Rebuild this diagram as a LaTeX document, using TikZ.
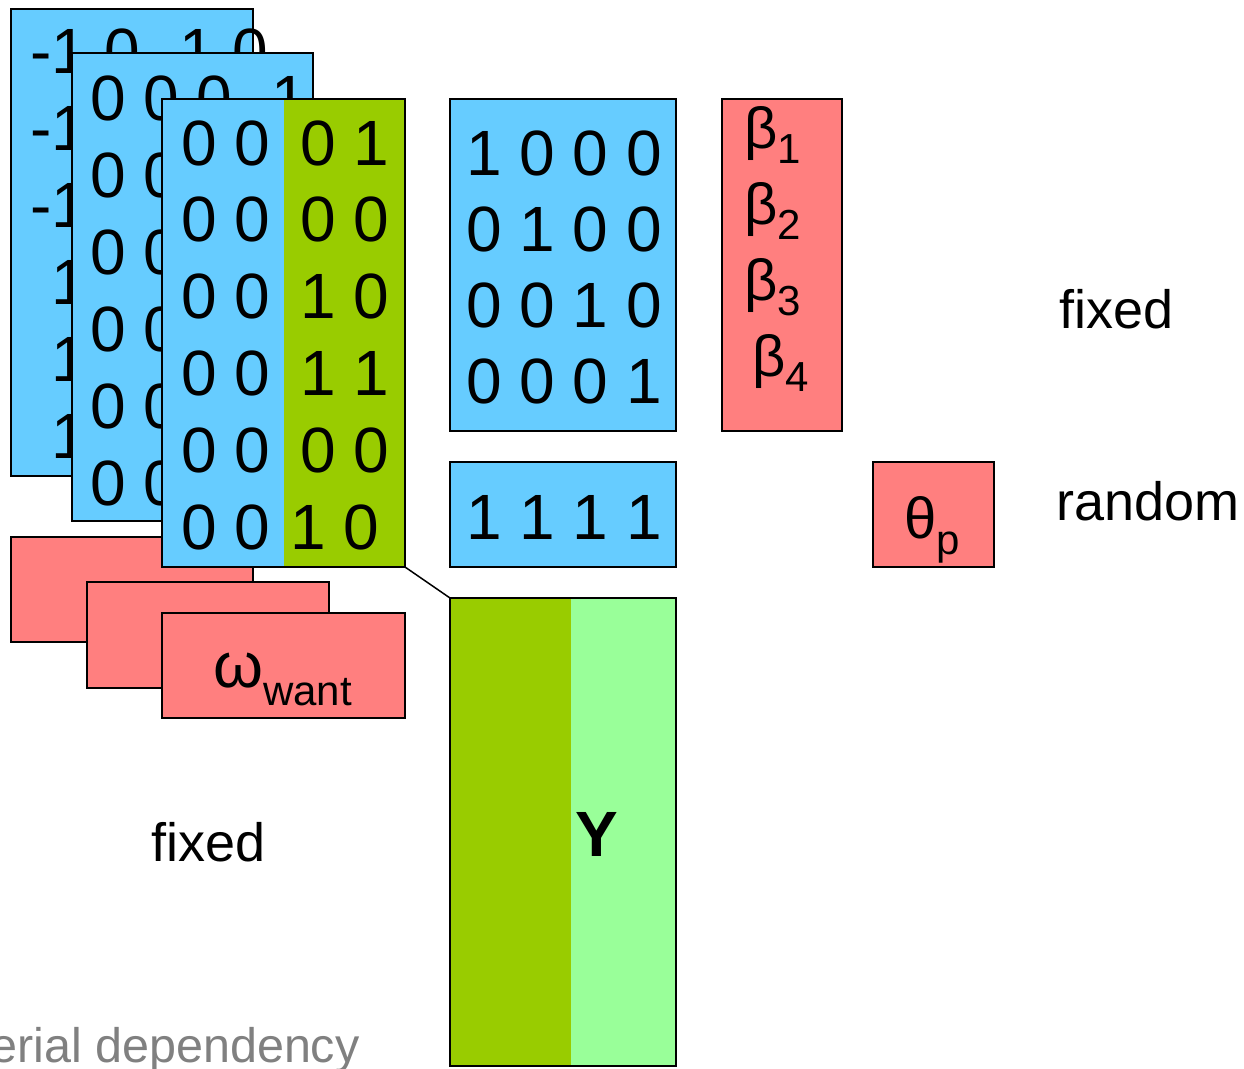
\documentclass[tikz,border=0pt]{standalone}
\usepackage{fontspec}
\setmainfont{Liberation Sans}
\definecolor{mblue}{HTML}{66CCFF}
\definecolor{mred}{HTML}{FF7F7F}
\definecolor{mgreen}{HTML}{99CC00}
\definecolor{lgreen}{HTML}{99FF99}
\definecolor{tgray}{HTML}{808080}
% symbol with a lowered, smaller subscript
\newcommand\subdown[3]{#1\raisebox{-#3pt}{\fontsize{42}{42}\selectfont #2}}
\begin{document}
\begin{tikzpicture}[x=1pt,y=-1pt,
  box/.style={draw=black,line width=1.7pt,inner sep=0pt,outer sep=0pt,anchor=north west},
  plain/.style={inner sep=0pt,outer sep=0pt,anchor=north west},
  num/.style={font=\fontsize{64}{64}\selectfont,inner sep=0pt,anchor=base west},
  numc/.style={font=\fontsize{64}{64}\selectfont,inner sep=0pt,anchor=base},
  sym/.style={font=\fontsize{58}{58}\selectfont,inner sep=0pt,anchor=base west},
  omg/.style={font=\fontsize{64}{64}\selectfont,inner sep=0pt,anchor=base west},
  lbl/.style={font=\fontsize{54}{54}\selectfont,inner sep=0pt,anchor=base west}]
\useasboundingbox (0,0) rectangle (1244,1068);

% back design matrix
\node[box,fill=mblue,minimum width=242pt,minimum height=467pt] (m1) at (11,9) {};
\foreach \t [count=\i] in {{-1 0 -1 0},{-1 0 0 -1},{-1 -1 0 0},{\phantom{-}1 0 1 0},{\phantom{-}1 0 0 1},{\phantom{-}1 1 0 0}}
  \node[num] (m1r\i) at (30,{73+77*(\i-1)}) {\t};

% middle design matrix
\node[box,fill=mblue,minimum width=241pt,minimum height=468pt] (m2) at (72,53) {};
\foreach \t [count=\i] in {{0 0 0 -1},{0 0 1 0},{0 0 0 0},{0 0 1 1},{0 0 0 1},{0 0 1 0}}
  \node[num] (m2r\i) at (90,{120+77*(\i-1)}) {\t};

% random-effect boxes behind
\node[box,fill=mred,minimum width=242pt,minimum height=105pt] (r1) at (11,537) {};
\node[omg] (r1t) at (98,616) {ω};
\node[box,fill=mred,minimum width=242pt,minimum height=106pt] (r2) at (87,582) {};

% front design matrix: blue and green halves
\node[plain,fill=mblue,minimum width=122pt,minimum height=468pt] (m3b) at (162,99) {};
\node[plain,fill=mgreen,minimum width=121pt,minimum height=468pt] (m3g) at (284,99) {};
\node[box,minimum width=243pt,minimum height=468pt] (m3) at (162,99) {};
\foreach \i in {1,...,6}
  \node[numc] (m3b\i) at (226,{165+76.8*(\i-1)}) {0 0};
\foreach \t [count=\i] in {{0 1},{0 0},{1 0},{1 1},{0 0}}
  \node[numc] (m3g\i) at (344.5,{165+76.8*(\i-1)}) {\t};
\node[numc] (m3g6) at (334.5,549) {1 0};

% front random-effect box
\node[box,fill=mred,minimum width=243pt,minimum height=105pt] (r3) at (162,613) {};
\node[omg] (r3t) at (213,687) {\subdown{ω}{want}{18}};

% identity matrix and row of ones
\node[box,fill=mblue,minimum width=226pt,minimum height=332pt] (id) at (450,99) {};
\foreach \t [count=\i] in {{1 0 0 0},{0 1 0 0},{0 0 1 0},{0 0 0 1}}
  \node[numc] (idr\i) at (564,{175+76*(\i-1)}) {\t};
\node[box,fill=mblue,minimum width=226pt,minimum height=105pt] (ones) at (450,462) {};
\node[numc] (onest) at (564,539) {1 1 1 1};

% fixed-effect coefficients
\node[box,fill=mred,minimum width=120pt,minimum height=332pt] (beta) at (722,99) {};
\node[sym] (b1) at (744,148) {\subdown{β}{1}{15}};
\node[sym] (b2) at (744,224) {\subdown{β}{2}{15}};
\node[sym] (b3) at (744,300) {\subdown{β}{3}{15}};
\node[sym] (b4) at (752,376) {\subdown{β}{4}{15}};

% random-effect parameter
\node[box,fill=mred,minimum width=121pt,minimum height=105pt] (theta) at (873,462) {};
\node[sym] (th) at (904,538) {\subdown{θ}{p}{16}};

% response
\node[plain,fill=mgreen,minimum width=121pt,minimum height=468pt] (yd) at (450,598) {};
\node[plain,fill=lgreen,minimum width=105pt,minimum height=468pt] (yl) at (571,598) {};
\node[box,minimum width=226pt,minimum height=468pt] (ybox) at (450,598) {};
\node[font=\fontsize{64}{64}\selectfont\bfseries,inner sep=0pt] (ylab) at (597,834) {Y};

\draw[line width=1.5pt] (m3.south east) -- (ybox.north west);

% labels
\node[lbl] (fx1) at (1059,328) {fixed};
\node[lbl] (rnd) at (1056,520) {random};
\node[lbl] (fx2) at (151,861) {fixed};
\node[lbl,font=\fontsize{48.5}{48.5}\selectfont,text=tgray] (ser) at (-10,1062) {erial dependency};
\end{tikzpicture}
\end{document}
